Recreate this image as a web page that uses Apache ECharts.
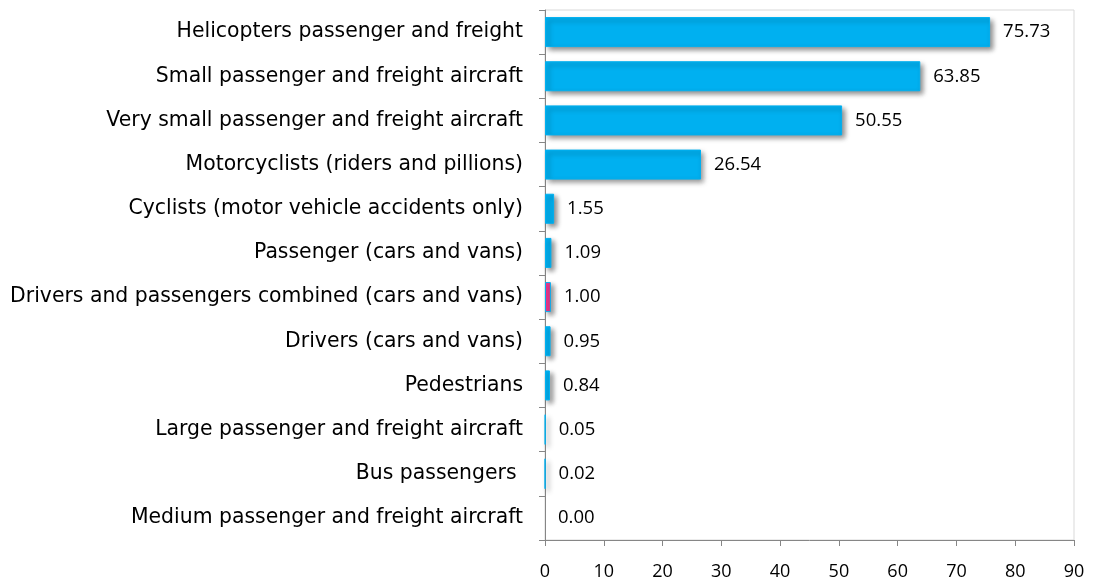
<!DOCTYPE html>
<html>
<head>
<meta charset="utf-8">
<script src="https://cdn.jsdelivr.net/npm/echarts@6/dist/echarts.min.js"></script>
<style>
    html, body { margin: 0; padding: 0; background: #fff; }
    #main { width: 1094px; height: 583px; }
</style>
</head>
<body>
<div id="main"></div>
<script>
// categories, top to bottom as in the picture
var categories = [
    'Helicopters passenger and freight',
    'Small passenger and freight aircraft',
    'Very small passenger and freight aircraft',
    'Motorcyclists (riders and pillions)',
    'Cyclists (motor vehicle accidents only)',
    'Passenger (cars and vans)',
    'Drivers and passengers combined (cars and vans)',
    'Drivers (cars and vans)',
    'Pedestrians',
    'Large passenger and freight aircraft',
    'Bus passengers ',
    'Medium passenger and freight aircraft'
];
var values = [75.73, 63.85, 50.55, 26.54, 1.55, 1.09, 1.00, 0.95, 0.84, 0.05, 0.02, 0.00];
var highlightName = 'Drivers and passengers combined (cars and vans)';

var barData = [];
for (var i = 0; i < values.length; i++) {
    var item = { value: values[i] };
    if (categories[i] === highlightName) {
        item.itemStyle = { color: '#F0368C', borderColor: '#00B0F0', borderWidth: 1 };
    } else if (values[i] === 0) {
        // nothing drawn for a zero bar
        item.itemStyle = { borderWidth: 0, shadowBlur: 0, shadowOffsetX: 0, shadowOffsetY: 0, shadowColor: 'transparent' };
    }
    barData.push(item);
}

var chart = echarts.init(document.getElementById('main'));

var option = {
    animation: false,
    grid: {
        left: 545,
        right: 20,
        top: 10,
        bottom: 43,
        show: true,
        borderColor: '#d9d9d9',
        borderWidth: 1
    },
    xAxis: {
        type: 'value',
        min: 0,
        max: 90,
        interval: 10,
        splitLine: { show: false },
        axisLine: { show: true, lineStyle: { color: '#868686', width: 1 } },
        axisTick: { show: true, length: 6, lineStyle: { color: '#868686' } },
        axisLabel: {
            color: '#000',
            fontFamily: 'Open Sans',
            fontSize: 18,
            margin: 23
        }
    },
    yAxis: {
        type: 'category',
        inverse: true,
        data: categories,
        axisLine: { show: true, lineStyle: { color: '#868686', width: 1 } },
        axisTick: { show: true, length: 6, lineStyle: { color: '#868686' } },
        axisLabel: {
            color: '#000',
            fontFamily: 'DejaVu Sans',
            fontSize: 20.4,
            margin: 22
        }
    },
    series: [
        {
            type: 'bar',
            data: barData,
            barCategoryGap: '32%',
            itemStyle: {
                color: '#00B0F0',
                borderColor: '#00B0F0',
                borderWidth: 1,
                shadowColor: 'rgba(0,0,0,0.45)',
                shadowBlur: 5,
                shadowOffsetX: 3,
                shadowOffsetY: 3
            },
            label: {
                show: true,
                position: 'right',
                distance: 13,
                color: '#000',
                fontFamily: 'Open Sans',
                fontSize: 18.5,
                formatter: function (p) { return p.value.toFixed(2); }
            }
        }
    ]
};

chart.setOption(option, true);

window.addEventListener('resize', function () {
    chart.resize();
});
</script>
</body>
</html>
